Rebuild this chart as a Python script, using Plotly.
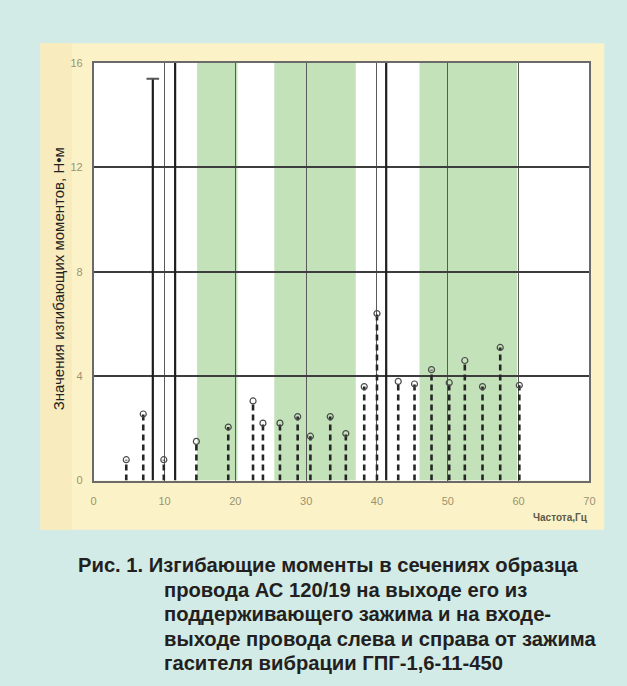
import plotly.graph_objects as go

# Frequencies (Hz) and bending moments (N*m) of the measured resonance peaks
freq = [4.6, 7.0, 9.9, 14.5, 19.0, 22.5, 23.9, 26.3, 28.8, 30.6, 33.4, 35.6,
        38.2, 40.0, 43.0, 45.3, 47.7, 50.2, 52.4, 54.9, 57.4, 60.1]
moment = [0.8, 2.55, 0.8, 1.5, 2.05, 3.05, 2.2, 2.2, 2.45, 1.7, 2.45, 1.8,
          3.6, 6.4, 3.8, 3.7, 4.25, 3.75, 4.6, 3.6, 5.1, 3.65]

# Peaks that run off the top of the scale
tall_freq = [8.35, 11.5, 41.3]
tall_moment = [15.4, 17.0, 17.0]

# Frequency bands shaded in green
bands = [(14.6, 20.3), (25.5, 37.0), (46.0, 59.8)]

x_ticks = [0, 10, 20, 30, 40, 50, 60, 70]
y_ticks = [0, 4, 8, 12, 16]

W, H = 627, 686
PX_L, PX_R, PX_T, PX_B = 92, 595, 58, 483


def px(x):
    return x / W


def py(y):
    return 1 - y / H


def stems(xs, ys):
    sx, sy = [], []
    for a, b in zip(xs, ys):
        sx += [a, a, None]
        sy += [0, b, None]
    return sx, sy


fig = go.Figure()

sx, sy = stems(freq, moment)
fig.add_trace(go.Scatter(x=sx, y=sy, mode="lines",
                         line=dict(color="#262626", width=2.6, dash="6px,4px"),
                         hoverinfo="skip", showlegend=False))
fig.add_trace(go.Scatter(x=freq, y=moment, mode="markers",
                         marker=dict(symbol="circle-open", size=6,
                                     color="#4a4a4a", line=dict(width=1.2)),
                         showlegend=False))

tx, ty = stems(tall_freq, tall_moment)
fig.add_trace(go.Scatter(x=tx, y=ty, mode="lines",
                         line=dict(color="#1e1e1e", width=2.2),
                         hoverinfo="skip", showlegend=False))
fig.add_trace(go.Scatter(x=[tall_freq[0]], y=[tall_moment[0]], mode="markers",
                         marker=dict(symbol="line-ew", size=9,
                                     line=dict(color="#555", width=2)),
                         showlegend=False))

shapes = [
    # pale yellow panel behind the chart
    dict(type="rect", xref="paper", yref="paper", layer="below",
         x0=px(38), x1=px(610), y0=py(533), y1=py(38),
         fillcolor="#fcf2c7", line=dict(width=0)),
    dict(type="rect", xref="paper", yref="paper", layer="below",
         x0=px(38), x1=px(70), y0=py(533), y1=py(38),
         fillcolor="#f8ebbd", line=dict(width=0)),
    # white plotting area
    dict(type="rect", xref="paper", yref="paper", layer="below",
         x0=px(PX_L), x1=px(PX_R), y0=py(PX_B), y1=py(PX_T),
         fillcolor="#ffffff", line=dict(width=0)),
]
for a, b in bands:
    shapes.append(dict(type="rect", xref="x", yref="y", layer="below",
                       x0=a, x1=b, y0=0, y1=16,
                       fillcolor="#c3e2b9", line=dict(width=0)))

annotations = [
    dict(text="Значения изгибающих моментов, Н\u2022м", textangle=-90,
         x=px(56), y=py(278), xref="paper", yref="paper", showarrow=False,
         xanchor="center", yanchor="middle",
         font=dict(family="Liberation Sans, Arial", size=15, color="#222")),
    dict(text="<b>Частота,Гц</b>", x=px(596), y=py(521), xref="paper",
         yref="paper", xanchor="right", yanchor="middle", showarrow=False,
         font=dict(family="Liberation Sans, Arial", size=10, color="#5c5a48")),
]

caption = [
    "Рис. 1. Изгибающие моменты в сечениях образца",
    "провода АС 120/19 на выходе его из",
    "поддерживающего зажима и на входе-",
    "выходе провода слева и справа от зажима",
    "гасителя вибрации ГПГ-1,6-11-450",
]
for i, line in enumerate(caption):
    annotations.append(dict(
        text=f"<b>{line}</b>", x=px(74 if i == 0 else 161), y=py(569 + 25 * i),
        xref="paper", yref="paper", xanchor="left", yanchor="middle",
        showarrow=False,
        font=dict(family="Liberation Sans, Arial", size=20.2, color="#231f20")))

fig.update_layout(
    width=W, height=H,
    margin=dict(l=0, r=0, t=0, b=0),
    paper_bgcolor="#d3ebe6",
    plot_bgcolor="#ffffff",
    shapes=shapes,
    annotations=annotations,
    xaxis=dict(domain=[px(PX_L), px(PX_R)], range=[0, 70],
               tickvals=x_ticks, ticktext=[str(v) for v in x_ticks],
               showgrid=True, gridcolor="#5a5a5a", gridwidth=1.2,
               zeroline=False, showline=True, linecolor="#6a6a6a",
               linewidth=1.5, mirror=True, ticks="", ticklabelstandoff=9,
               tickfont=dict(family="Liberation Sans, Arial", size=11,
                             color="#9a9370")),
    yaxis=dict(domain=[py(PX_B), py(PX_T)], range=[0, 16],
               tickvals=y_ticks, ticktext=[str(v) for v in y_ticks],
               showgrid=True, gridcolor="#3d3d3d", gridwidth=1.5,
               zeroline=False, showline=True, linecolor="#6a6a6a",
               linewidth=1.5, mirror=True, ticks="", ticklabelstandoff=7,
               tickfont=dict(family="Liberation Sans, Arial", size=11,
                             color="#9a9370")),
)

fig.write_html("out.html")
